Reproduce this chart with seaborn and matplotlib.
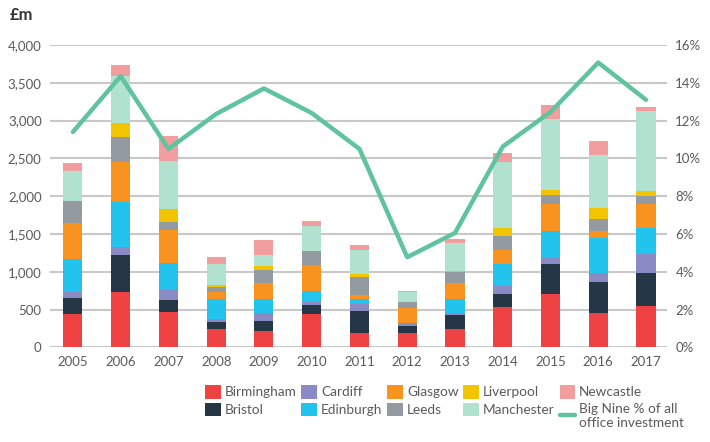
import matplotlib
matplotlib.use("Agg")
import matplotlib.pyplot as plt
import seaborn as sns
import numpy as np
import pandas as pd
from matplotlib.patches import Patch
from matplotlib.lines import Line2D
from matplotlib.ticker import FuncFormatter, MultipleLocator

years = ["2005", "2006", "2007", "2008", "2009", "2010", "2011",
         "2012", "2013", "2014", "2015", "2016", "2017"]
cities = ["Birmingham", "Bristol", "Cardiff", "Edinburgh", "Glasgow",
          "Leeds", "Liverpool", "Manchester", "Newcastle"]

birmingham = [441, 732, 467, 243, 216, 441, 189, 189, 242, 534, 706, 454, 547]
bristol    = [212, 490, 159, 92, 132, 119, 291, 93, 185, 172, 397, 410, 436]
cardiff    = [79, 105, 137, 40, 106, 44, 97, 39, 27, 105, 79, 119, 256]
edinburgh  = [437, 600, 353, 264, 185, 141, 62, 0, 185, 296, 357, 468, 344]
glasgow    = [476, 529, 436, 93, 212, 344, 53, 203, 212, 185, 362, 88, 318]
leeds      = [291, 327, 106, 66, 172, 185, 238, 75, 150, 181, 114, 159, 106]
liverpool  = [0, 185, 172, 27, 53, 0, 40, 0, 13, 106, 67, 150, 61]
manchester = [397, 622, 635, 277, 145, 331, 317, 133, 366, 873, 939, 697, 1059]
newcastle  = [106, 145, 331, 93, 199, 66, 66, 17, 53, 119, 185, 185, 53]
big_nine_pct = [11.4, 14.35, 10.5, 12.35, 13.7, 12.4, 10.5, 4.77, 6.05,
                10.62, 12.45, 15.07, 13.1]

series = [birmingham, bristol, cardiff, edinburgh, glasgow, leeds,
          liverpool, manchester, newcastle]
colors = ["#EF4242", "#253746", "#8A8AC4", "#22C4EE", "#F7931E",
          "#939BA1", "#F2C500", "#B1E2D0", "#F29E9E"]
line_color = "#5FC39F"

sns.set_theme(style="white")
plt.rcParams["font.family"] = ["Lato", "DejaVu Sans"]
text_color = "#5a5a5a"

fig = plt.figure(figsize=(7.1, 4.42), dpi=100)
ax = fig.add_axes([50 / 710, (442 - 347.3) / 442, (667 - 50) / 710, (347.3 - 45) / 442])

cum = np.cumsum(np.array(series), axis=0)
# draw from top layer down so lower layers overlay the cumulative bars
for i in range(len(cities) - 1, -1, -1):
    df = pd.DataFrame({"year": years, "value": cum[i]})
    sns.barplot(data=df, x="year", y="value", color=colors[i], width=0.4,
                saturation=1, linewidth=0, ax=ax, zorder=3)

ax.set_ylim(0, 4000)
ax.set_xlim(-0.48, 12.44)
ax.yaxis.set_major_locator(MultipleLocator(500))
ax.yaxis.set_major_formatter(FuncFormatter(lambda v, p: f"{int(v):,}"))
ax.grid(axis="y", color="#c8c8c8", linewidth=1.5, zorder=0)
ax.grid(axis="x", visible=False)
ax.set_axisbelow(True)
for s in ax.spines.values():
    s.set_visible(False)
ax.set_xlabel("")
ax.set_ylabel("")
ax.tick_params(axis="both", length=0, labelsize=9.5, colors=text_color)
ax.tick_params(axis="x", pad=6)
ax.tick_params(axis="y", pad=6)

ax2 = ax.twinx()
sns.lineplot(x=np.arange(len(years)), y=big_nine_pct, color=line_color,
             linewidth=3.2, ax=ax2, zorder=5)
ax2.set_ylim(0, 16)
ax2.yaxis.set_major_locator(MultipleLocator(2))
ax2.yaxis.set_major_formatter(FuncFormatter(lambda v, p: f"{int(v)}%"))
for s in ax2.spines.values():
    s.set_visible(False)
ax2.grid(False)
ax2.set_ylabel("")
ax2.tick_params(axis="y", length=0, labelsize=9.5, colors=text_color, pad=6)
ax2.set_xlim(-0.48, 12.44)

fig.text(10 / 710, 1 - 15 / 442, "£m", fontsize=12, fontweight="bold",
         color="#333333", va="center", ha="left")

handles = [Patch(facecolor=c, edgecolor="none") for c in colors]
handles.append(Line2D([0], [0], color=line_color, linewidth=3.2))
labels = cities + ["Big Nine % of all\noffice investment"]
leg = fig.legend(handles, labels, ncol=5, loc="upper left",
                 bbox_to_anchor=(205 / 710, 1 - 385 / 442), frameon=False,
                 fontsize=9.8, handlelength=1.15, handleheight=1.15,
                 handletextpad=0.3, columnspacing=0.35, labelspacing=0.3,
                 borderaxespad=0, borderpad=0)
for t in leg.get_texts():
    t.set_color(text_color)

fig.savefig("out.png", dpi=100)
